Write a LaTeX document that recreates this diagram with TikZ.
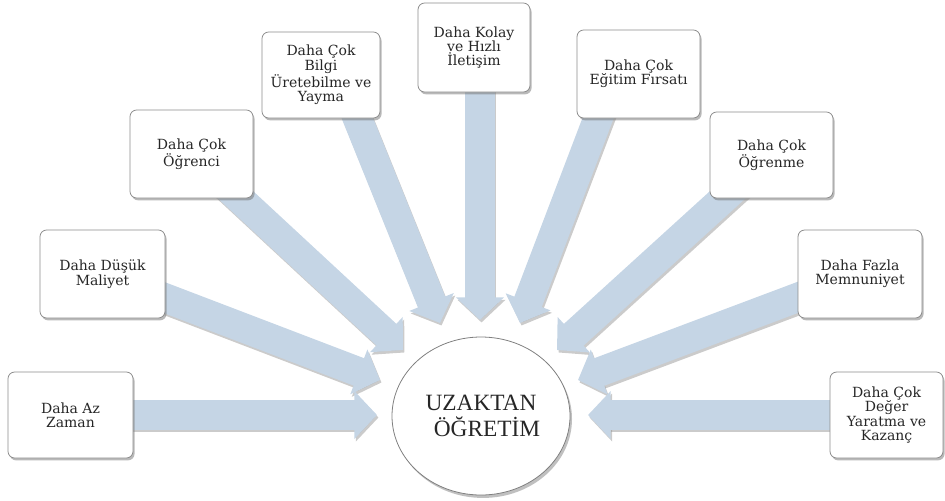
\documentclass[tikz,border=0pt]{standalone}
\usepackage{fontspec}
\setmainfont{DejaVu Serif}
\newfontfamily\ctrfont{Liberation Serif}
\usetikzlibrary{arrows.meta,shadows,shapes.geometric}
\definecolor{arrowblue}{HTML}{C5D5E5}
\definecolor{txtgray}{HTML}{262626}
\pgfdeclarelayer{bg}
\pgfsetlayers{bg,main}
\begin{document}
\begin{tikzpicture}[x=0.75pt,y=-0.75pt,
  boxnode/.style={draw=black!45, line width=0.6pt, fill=white, rounded corners=5pt,
    align=center, font=\fontsize{10.5}{10.8}\selectfont, text=txtgray, inner sep=0pt,
    drop shadow={shadow xshift=1.2pt, shadow yshift=-1.8pt, opacity=0.5, fill=black!55}},
  bigarrow/.style={line width=22pt, draw=arrowblue, -{Triangle[length=17pt,width=35pt]}},
  arrowshadow/.style={line width=22pt, draw=black!45, opacity=0.45, -{Triangle[length=17pt,width=35pt]}}]
\useasboundingbox (0,0) rectangle (945,500);

% boxes
\node[boxnode, minimum width=93.75pt, minimum height=64.5pt] (az) at (70.5,415) {Daha Az\\Zaman};
\node[boxnode, minimum width=93.75pt, minimum height=66pt] (dusuk) at (102.5,274) {Daha Düşük\\Maliyet};
\node[boxnode, minimum width=92.25pt, minimum height=66pt] (ogrenci) at (191.5,154) {Daha Çok\\Öğrenci};
\node[boxnode, minimum width=88.5pt, minimum height=64.5pt] (bilgi) at (321,75) {Daha Çok\\Bilgi\\Üretebilme ve\\Yayma};
\node[boxnode, minimum width=84pt, minimum height=66.75pt] (kolay) at (474,47.5) {Daha Kolay\\ve Hızlı\\İletişim};
\node[boxnode, minimum width=92.25pt, minimum height=66pt] (egitim) at (638.5,74) {Daha Çok\\Eğitim Fırsatı};
\node[boxnode, minimum width=92.25pt, minimum height=64.5pt] (ogrenme) at (771.5,155) {Daha Çok\\Öğrenme};
\node[boxnode, minimum width=93pt, minimum height=66pt] (memnun) at (860,274) {Daha Fazla\\Memnuniyet};
\node[boxnode, minimum width=84.75pt, minimum height=64.5pt] (deger) at (886.5,415) {Daha Çok\\Değer\\Yaratma ve\\Kazanç};

% centre
\node[ellipse, draw=black!50, line width=0.6pt, fill=white, minimum width=133.5pt, minimum height=118.5pt,
  align=center, inner sep=0pt, text=txtgray, font=\ctrfont\fontsize{17.5}{20}\selectfont,
  drop shadow={shadow xshift=1.5pt, shadow yshift=-2.2pt, opacity=0.45, fill=black!55}]
  (center) at (481,416) {UZAKTAN\\\hspace*{9pt}ÖĞRETİM};

% arrow start and tip points
\coordinate (sbi) at (350,100);
\coordinate (sko) at (480,60);
\coordinate (seg) at (605,100);
\coordinate (taz) at (377,415);
\coordinate (tdu) at (380,380);
\coordinate (tog) at (403,350);
\coordinate (tbi) at (440,323);
\coordinate (tko) at (480,320);
\coordinate (teg) at (520,323);
\coordinate (tom) at (557,350);
\coordinate (tme) at (578,380);
\coordinate (tde) at (588,415);

\begin{pgfonlayer}{bg}
  \foreach \s/\t in {az.center/taz, dusuk.center/tdu, ogrenci.center/tog, sbi/tbi, sko/tko,
                     seg/teg, ogrenme.center/tom, memnun.center/tme, deger.center/tde}{
    \draw[arrowshadow] ([shift={(1.5,2.5)}]\s) -- ([shift={(1.5,2.5)}]\t);
  }
  \foreach \s/\t in {az.center/taz, dusuk.center/tdu, ogrenci.center/tog, sbi/tbi, sko/tko,
                     seg/teg, ogrenme.center/tom, memnun.center/tme, deger.center/tde}{
    \draw[bigarrow] (\s) -- (\t);
  }
\end{pgfonlayer}
\end{tikzpicture}
\end{document}
